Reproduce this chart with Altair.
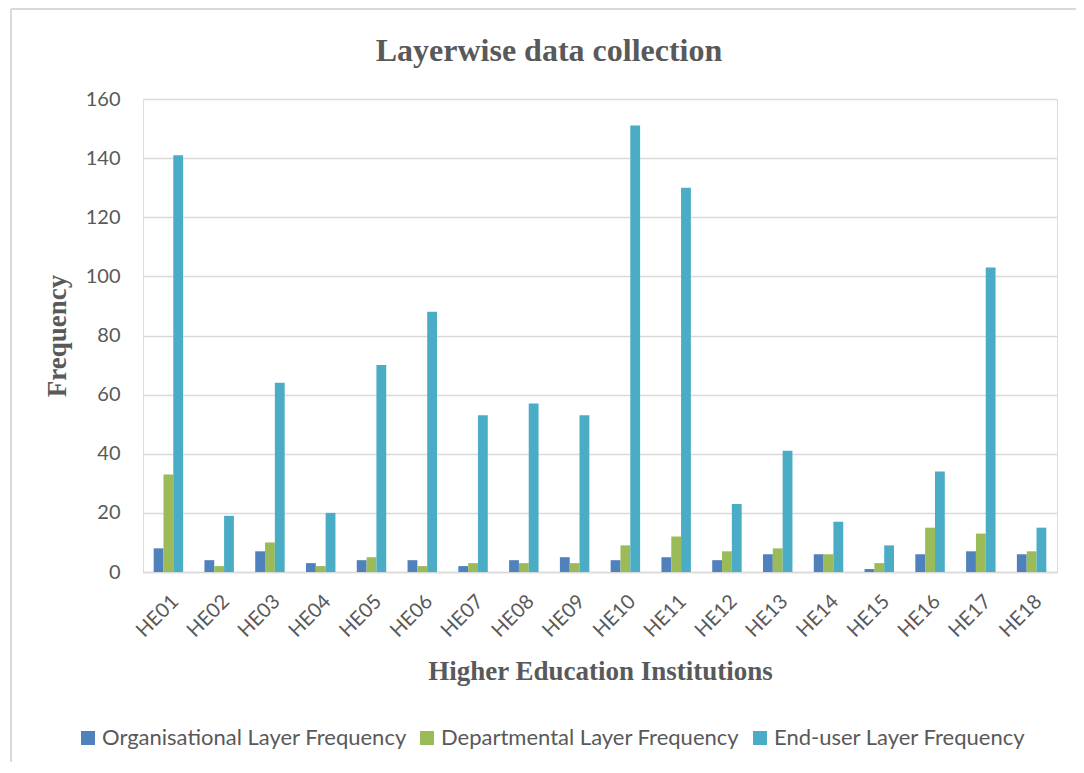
import altair as alt
import pandas as pd

institutions = [f"HE{i:02d}" for i in range(1, 19)]
organisational = [8, 4, 7, 3, 4, 4, 2, 4, 5, 4, 5, 4, 6, 6, 1, 6, 7, 6]
departmental = [33, 2, 10, 2, 5, 2, 3, 3, 3, 9, 12, 7, 8, 6, 3, 15, 13, 7]
end_user = [141, 19, 64, 20, 70, 88, 53, 57, 53, 151, 130, 23, 41, 17, 9, 34, 103, 15]

series_names = [
    "Organisational Layer Frequency",
    "Departmental Layer Frequency",
    "End-user Layer Frequency",
]
series_colors = ["#4F81BD", "#9BBB59", "#4BACC6"]

rows = []
for i, inst in enumerate(institutions):
    for name, vals in zip(series_names, [organisational, departmental, end_user]):
        rows.append({"Institution": inst, "Series": name, "Value": vals[i]})
df = pd.DataFrame(rows)

label_font = "Lato"
serif = "Liberation Serif"

bars = alt.Chart(df).mark_bar().encode(
    x=alt.X(
        "Institution:N",
        sort=institutions,
        scale=alt.Scale(paddingInner=0.42, paddingOuter=0.21),
        axis=alt.Axis(
            title="Higher Education Institutions",
            labelAngle=-45,
            labelFont=label_font,
            labelFontSize=20,
            labelColor="#595959",
            labelPadding=19,
            ticks=False,
            domainColor="#d9d9d9",
            domainWidth=1.5,
            titleFont=serif,
            titleFontSize=27,
            titleFontWeight="bold",
            titleColor="#595959",
            titlePadding=18,
        ),
    ),
    xOffset=alt.XOffset("Series:N", sort=series_names),
    y=alt.Y(
        "Value:Q",
        scale=alt.Scale(domain=[0, 160]),
        axis=alt.Axis(
            title="Frequency",
            values=[0, 20, 40, 60, 80, 100, 120, 140, 160],
            labelFont=label_font,
            labelFontSize=20,
            labelColor="#595959",
            labelPadding=23,
            ticks=False,
            domain=False,
            gridColor="#d9d9d9",
            gridWidth=1.5,
            titleFont=serif,
            titleFontSize=27,
            titleFontWeight="bold",
            titleColor="#595959",
            titlePadding=14,
        ),
    ),
    color=alt.Color(
        "Series:N",
        sort=series_names,
        scale=alt.Scale(domain=series_names, range=series_colors),
        legend=alt.Legend(
            title=None,
            orient="none",
            direction="horizontal",
            legendX=-66,
            legendY=628,
            symbolType="square",
            symbolSize=196,
            symbolStrokeWidth=0,
            labelFont=label_font,
            labelFontSize=22,
            labelColor="#595959",
            labelLimit=0,
            columnPadding=9,
            labelOffset=3,
        ),
    ),
)

frame_src = pd.DataFrame({"a": [0]})
frame_top = alt.Chart(frame_src).mark_rule(color="#d9d9d9", strokeWidth=2).encode(
    x=alt.value(-132), x2=alt.value(1200), y=alt.value(-90)
)
frame_left = alt.Chart(frame_src).mark_rule(color="#d9d9d9", strokeWidth=2).encode(
    x=alt.value(-132), y=alt.value(-90), y2=alt.value(800)
)

chart = alt.layer(frame_top, frame_left, bars).properties(
    width=914,
    height=473,
    title=alt.TitleParams(
        "Layerwise data collection",
        font=serif,
        fontSize=32,
        fontWeight="bold",
        color="#595959",
        offset=-60,
        dx=-51,
    ),
    autosize=alt.AutoSizeParams(type="none"),
    padding={"left": 135, "top": 91, "right": 19, "bottom": 190},
).configure_view(stroke=None).configure(background="white")

chart.save("out.html", embed_options={"renderer": "svg", "actions": False})
